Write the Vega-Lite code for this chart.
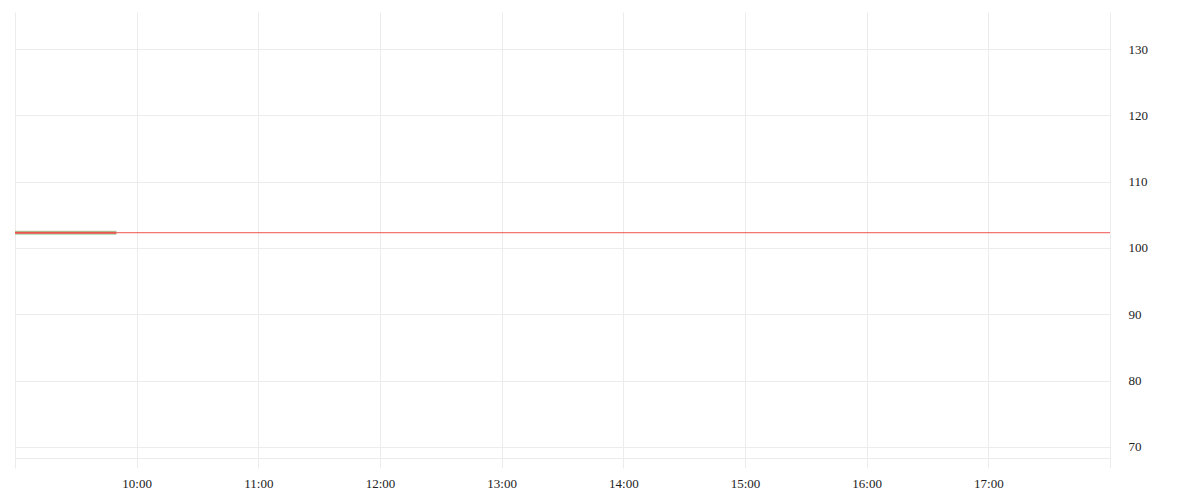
{
  "$schema": "https://vega.github.io/schema/vega-lite/v6.json",
  "autosize": "none",
  "width": 1095,
  "height": 456,
  "padding": {"left": 15, "top": 12, "right": 90, "bottom": 32},
  "background": "white",
  "config": {
    "view": {"stroke": null},
    "axis": {
      "labelFont": "Liberation Serif",
      "labelFontSize": 13,
      "labelColor": "#222222",
      "gridColor": "#ececec",
      "gridWidth": 1,
      "ticks": false,
      "domain": false,
      "title": null
    }
  },
  "datasets": {
    "series": [
      {"time": "2024-01-02T09:00:00", "value": 102.3},
      {"time": "2024-01-02T09:10:00", "value": 102.3},
      {"time": "2024-01-02T09:20:00", "value": 102.3},
      {"time": "2024-01-02T09:30:00", "value": 102.3},
      {"time": "2024-01-02T09:40:00", "value": 102.3},
      {"time": "2024-01-02T09:50:00", "value": 102.3}
    ],
    "last": [{"value": 102.3}]
  },
  "encoding": {
    "x": {
      "field": "time",
      "type": "temporal",
      "scale": {
        "domain": [
          {"year": 2024, "month": 1, "date": 2, "hours": 9},
          {"year": 2024, "month": 1, "date": 2, "hours": 18}
        ],
        "nice": false
      },
      "axis": {
        "values": [
          {"year": 2024, "month": 1, "date": 2, "hours": 9},
          {"year": 2024, "month": 1, "date": 2, "hours": 10},
          {"year": 2024, "month": 1, "date": 2, "hours": 11},
          {"year": 2024, "month": 1, "date": 2, "hours": 12},
          {"year": 2024, "month": 1, "date": 2, "hours": 13},
          {"year": 2024, "month": 1, "date": 2, "hours": 14},
          {"year": 2024, "month": 1, "date": 2, "hours": 15},
          {"year": 2024, "month": 1, "date": 2, "hours": 16},
          {"year": 2024, "month": 1, "date": 2, "hours": 17},
          {"year": 2024, "month": 1, "date": 2, "hours": 18}
        ],
        "labelExpr": "hours(datum.value) == 9 || hours(datum.value) == 18 ? '' : timeFormat(datum.value, '%H:%M')",
        "labelPadding": 9,
        "labelBaseline": "top",
        "labelFlush": false,
        "labelOverlap": false
      }
    },
    "y": {
      "field": "value",
      "type": "quantitative",
      "scale": {"domain": [66.8, 135.6], "nice": false, "zero": false},
      "axis": {
        "orient": "right",
        "values": [68.3, 70, 80, 90, 100, 110, 120, 130],
        "labelExpr": "datum.value < 69 ? '' : datum.label",
        "labelPadding": 18,
        "labelFlush": false,
        "labelOverlap": false
      }
    }
  },
  "layer": [
    {
      "data": {"name": "last"},
      "mark": {"type": "rule", "color": "#ef5350", "strokeWidth": 1},
      "encoding": {"x": null}
    },
    {
      "data": {"name": "series"},
      "mark": {"type": "line", "color": "#a5d6a7", "strokeWidth": 4, "strokeCap": "butt"}
    },
    {
      "data": {"name": "series"},
      "mark": {"type": "line", "color": "#ef5350", "strokeWidth": 2, "strokeCap": "butt"}
    }
  ]
}
